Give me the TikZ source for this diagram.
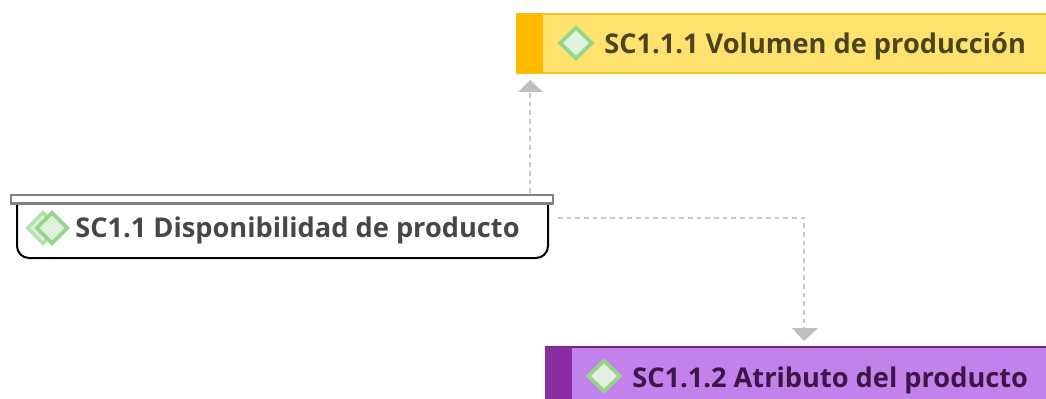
\documentclass[tikz,border=0pt]{standalone}
\usepackage{fontspec}
\newfontfamily\boxfont{Open Sans}
\usepackage{tikz}
\usetikzlibrary{shapes.geometric,arrows.meta}
\definecolor{barY}{RGB}{255,186,0}
\definecolor{boxY}{RGB}{255,226,110}
\definecolor{lineY}{RGB}{240,196,40}
\definecolor{barP}{RGB}{136,46,160}
\definecolor{boxP}{RGB}{195,130,235}
\definecolor{iconG}{RGB}{150,214,140}
\definecolor{iconF}{RGB}{226,240,224}
\tikzset{
  box/.style={rectangle,inner sep=0pt,outer sep=0pt,anchor=north west},
  icon/.style={diamond,draw=iconG,line width=2.8pt,fill=iconF,inner sep=0pt,minimum width=25pt,minimum height=24pt,aspect=1},
  label/.style={anchor=base west,inner sep=0pt,font=\boxfont\bfseries\fontsize{20.4pt}{24pt}\selectfont},
  link/.style={draw=black!22,line width=1.6pt,dash pattern=on 3.5pt off 3pt},
  tip/.style={fill=black!25,draw=none},
}
\begin{document}
\begin{tikzpicture}[x=0.75pt,y=0.75pt,yscale=-1]
\useasboundingbox (0,0) rectangle (1046,399);

%Yellow box
\node [box,fill=boxY,minimum width=397.5pt,minimum height=44.25pt] (boxvol) at (516,14) {};
\draw [lineY,line width=1.5pt] (boxvol.north west) -- (boxvol.north east) (boxvol.south west) -- (boxvol.south east);
\node [box,fill=barY,minimum width=20.25pt,minimum height=44.25pt] (barvol) at (516,14) {};
\node [icon] (iconvol) at (576,43) {};
\node [label,text=black!70!boxY] (textvol) at (604,54) {SC1.1.1 Volumen de producción};

%Purple box
\node [box,fill=boxP,minimum width=376pt,minimum height=39pt] (boxatr) at (545,347) {};
\draw [barP!80!black,line width=1.5pt] (boxatr.north west) -- (boxatr.north east);
\node [box,fill=barP,minimum width=20.25pt,minimum height=39pt] (baratr) at (545,347) {};
\node [icon] (iconatr) at (604,376) {};
\node [label,text=black!55!barP] (textatr) at (632,387) {SC1.1.2 Atributo del producto};

%Parent box
\draw [black,line width=1.5pt,rounded corners=9pt] (17,200) -- (17,258) -- (548,258) -- (548,200);
\node [box,draw=black!50,fill=white,line width=2pt,minimum width=406.5pt,minimum height=6.5pt] (header) at (11,195) {};
\node [icon,minimum width=24pt,minimum height=24pt,draw=iconG!70] (iconback) at (43,228) {};
\node [icon,minimum width=24pt,minimum height=24pt] (iconpar) at (52,228) {};
\node [label,text=black!72] (textpar) at (75,238) {SC1.1 Disponibilidad de producto};

%Connectors
\coordinate (startup) at (530,193);
\coordinate (endup) at (530,92);
\coordinate (startdown) at (558,218);
\coordinate (bend) at (804,218);
\coordinate (enddown) at (804,328);
\draw [link] (startup) -- (endup);
\draw [link] (startdown) -- (bend) -- (enddown);
\fill [tip] (518,92) -- (530,80) -- (543,92) -- cycle;
\fill [tip] (792,328) -- (804,341) -- (818,328) -- cycle;
\end{tikzpicture}
\end{document}
